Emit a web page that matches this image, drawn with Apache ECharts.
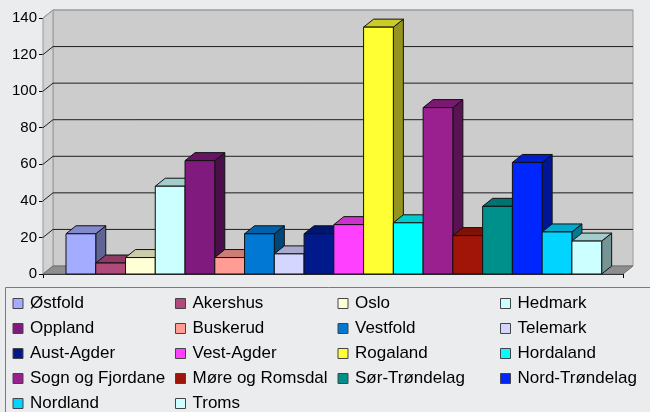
<!DOCTYPE html>
<html>
<head>
<meta charset="utf-8">
<script src="https://cdn.jsdelivr.net/npm/echarts@6/dist/echarts.min.js"></script>
<style>
  html, body { margin: 0; padding: 0; background: #EBECEE; }
  #chart { width: 650px; height: 412px; }
</style>
</head>
<body>
<div id="chart"></div>
<script>
// Counties, one column each
const regions = [
  'Østfold', 'Akershus', 'Oslo', 'Hedmark', 'Oppland', 'Buskerud',
  'Vestfold', 'Telemark', 'Aust-Agder', 'Vest-Agder', 'Rogaland', 'Hordaland',
  'Sogn og Fjordane', 'Møre og Romsdal', 'Sør-Trøndelag', 'Nord-Trøndelag',
  'Nordland', 'Troms'
];
const counts = [22, 6, 9, 48, 62, 9, 22, 11, 22, 27, 135, 28, 91, 21, 37, 61, 23, 18];
const yTicks = [0, 20, 40, 60, 80, 100, 120, 140];

// Front-face colours; top and side faces are shaded from these
const palette = [
  '#A4ACFF', '#B04A7A', '#FFFFD6', '#CCFFFF', '#801A7E', '#FF9C94',
  '#0078D4', '#D4D6FF', '#001A8C', '#FF40FF', '#FFFF33', '#00FFFF',
  '#9A1F8F', '#A01508', '#00908C', '#0026FF', '#00D4FF', '#CCFFFF'
];

// 3D depth offset of the chart and its columns
const DEPTH_X = 10;
const DEPTH_Y = -8;
// x-axis units: each column is one unit wide, offset from the axis start
const BAR_START = 0.773;
const X_MAX = 19.49;

function shade(hex, k) {
  const n = parseInt(hex.slice(1), 16);
  const r = Math.round(((n >> 16) & 255) * k);
  const g = Math.round(((n >> 8) & 255) * k);
  const b = Math.round((n & 255) * k);
  return 'rgb(' + r + ',' + g + ',' + b + ')';
}

// Back wall, side wall, floor and gridlines
function renderWalls(params, api) {
  const cs = params.coordSys;
  const L = cs.x, R = cs.x + cs.width, T = cs.y, B = cs.y + cs.height;
  const dx = DEPTH_X, dy = DEPTH_Y;
  const children = [
    { type: 'polygon', shape: { points: [[L + dx, T + dy], [R + dx, T + dy], [R + dx, B + dy], [L + dx, B + dy]] },
      style: { fill: '#CCCCCC', stroke: '#9A9A9A', lineWidth: 1 } },
    { type: 'polygon', shape: { points: [[L, T], [L + dx, T + dy], [L + dx, B + dy], [L, B]] },
      style: { fill: '#D2D2D2', stroke: '#9A9A9A', lineWidth: 1 } },
    { type: 'polygon', shape: { points: [[L, B], [L + dx, B + dy], [R + dx, B + dy], [R, B]] },
      style: { fill: '#8E8E8E', stroke: '#6E6E6E', lineWidth: 1 } }
  ];
  yTicks.forEach(function (t) {
    if (t === 0) return;
    const y = api.coord([0, t])[1];
    const top = t === yTicks[yTicks.length - 1];
    children.push({
      type: 'polyline',
      shape: { points: [[L, y], [L + dx, y + dy], [R + dx, y + dy]] },
      style: { stroke: top ? '#9A9A9A' : '#1E1E1E', lineWidth: 1, fill: null }
    });
  });
  return { type: 'group', children: children };
}

// One 3D column: front, top and right side faces
function renderBar(params, api) {
  const i = api.value(0);
  const v = api.value(1);
  const p0 = api.coord([i + BAR_START, 0]);
  const p1 = api.coord([i + BAR_START + 1, v]);
  const L = p0[0], B = p0[1], R = p1[0], T = p1[1];
  const dx = DEPTH_X, dy = DEPTH_Y;
  const base = palette[params.seriesIndex - 1];
  const edge = { stroke: '#111', lineWidth: 1 };
  return {
    type: 'group',
    children: [
      { type: 'polygon', shape: { points: [[R, T], [R + dx, T + dy], [R + dx, B + dy], [R, B]] },
        style: Object.assign({ fill: shade(base, 0.58) }, edge) },
      { type: 'polygon', shape: { points: [[L, T], [L + dx, T + dy], [R + dx, T + dy], [R, T]] },
        style: Object.assign({ fill: shade(base, 0.8) }, edge) },
      { type: 'polygon', shape: { points: [[L, T], [R, T], [R, B], [L, B]] },
        style: Object.assign({ fill: base }, edge) }
    ]
  };
}

const series = [{
  type: 'custom',
  name: '__walls',
  renderItem: renderWalls,
  data: [[0, 0]],
  silent: true,
  z: 1
}];
regions.forEach(function (name, i) {
  series.push({
    type: 'custom',
    name: name,
    renderItem: renderBar,
    itemStyle: { color: palette[i] },
    data: [[i, counts[i]]],
    z: 2
  });
});

const chart = echarts.init(document.getElementById('chart'), null, { renderer: 'canvas' });
chart.setOption({
  animation: false,
  backgroundColor: '#EBECEE',
  textStyle: { fontFamily: '"Liberation Sans", Arial, sans-serif' },
  grid: { left: 43, top: 18, width: 580, height: 256 },
  xAxis: {
    type: 'value', min: 0, max: X_MAX, interval: X_MAX,
    axisLine: { show: true, lineStyle: { color: '#000', width: 1 } },
    axisTick: { show: true, length: 4, lineStyle: { color: '#000' } },
    axisLabel: { show: false },
    splitLine: { show: false }
  },
  yAxis: {
    type: 'value', min: 0, max: 140, interval: 20,
    axisLine: { show: true, lineStyle: { color: '#000', width: 1 } },
    axisTick: { show: true, length: 4, lineStyle: { color: '#000' } },
    axisLabel: { color: '#000', fontSize: 15, margin: 6, padding: [5, 0, 0, 0] },
    splitLine: { show: false }
  },
  legend: {
    data: regions,
    left: 7.5, top: 286, width: 650,
    orient: 'horizontal',
    icon: 'rect',
    itemWidth: 10, itemHeight: 10, itemGap: 0,
    itemStyle: { borderColor: '#444', borderWidth: 1 },
    textStyle: { color: '#000', fontSize: 17, width: 145, lineHeight: 25, overflow: 'truncate', padding: [0, 0, 0, 2] },
    selectedMode: false
  },
  graphic: [{
    type: 'rect',
    shape: { x: 5.5, y: 287.5, width: 700, height: 200 },
    style: { fill: null, stroke: '#7A7A7A', lineWidth: 1 },
    z: 0
  }],
  series: series
});
</script>
</body>
</html>
